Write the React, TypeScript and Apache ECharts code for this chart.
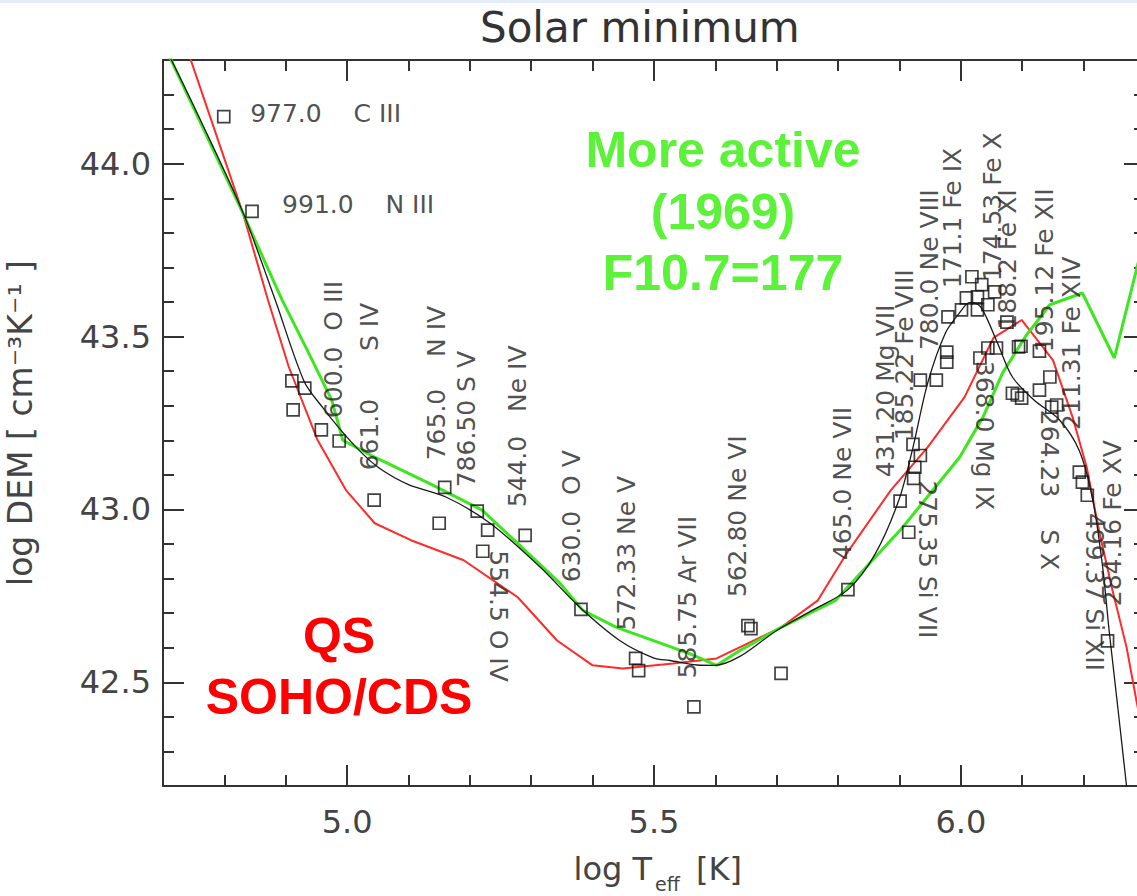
import React, { useEffect, useRef } from "react";
import * as echarts from "echarts";

const FONT = "DejaVu Sans";

// DEM fit (smooth black curve): log T_eff and log DEM
const fitT = [4.7, 4.76, 4.83, 4.882, 4.93, 4.96, 4.987, 5.02, 5.052, 5.1, 5.161, 5.233, 5.314, 5.379, 5.444, 5.5, 5.526, 5.57, 5.599, 5.64, 5.7, 5.76, 5.816, 5.86, 5.899, 5.921, 5.946, 5.975, 5.998, 6.014, 6.03, 6.042, 6.06, 6.084, 6.12, 6.16, 6.193, 6.215, 6.231, 6.242, 6.27, 6.28];
const fitDEM = [44.35, 44.13, 43.86, 43.61, 43.37, 43.295, 43.235, 43.17, 43.12, 43.072, 43.036, 42.96, 42.834, 42.717, 42.621, 42.57, 42.563, 42.55, 42.549, 42.575, 42.65, 42.71, 42.768, 42.87, 43.027, 43.172, 43.366, 43.511, 43.569, 43.598, 43.59, 43.554, 43.48, 43.383, 43.315, 43.26, 43.17, 43.027, 42.833, 42.642, 42.199, 42.0];

// Quiet Sun DEM, SOHO/CDS (red)
const qsT = [4.73, 4.83, 4.871, 4.905, 4.952, 4.998, 5.045, 5.104, 5.19, 5.278, 5.342, 5.4, 5.449, 5.531, 5.602, 5.707, 5.767, 5.814, 5.886, 5.946, 6.006, 6.053, 6.099, 6.15, 6.182, 6.205, 6.226, 6.247, 6.27, 6.286, 6.3];
const qsDEM = [44.38, 43.858, 43.606, 43.412, 43.2, 43.056, 42.96, 42.911, 42.853, 42.746, 42.621, 42.549, 42.54, 42.554, 42.569, 42.659, 42.737, 42.873, 43.056, 43.18, 43.325, 43.496, 43.548, 43.432, 43.267, 43.122, 42.931, 42.766, 42.601, 42.447, 42.32];

// More active Sun, 1969, F10.7 = 177 (green)
const activeT = [4.7, 4.83, 4.894, 4.935, 4.975, 4.993, 5.045, 5.133, 5.22, 5.347, 5.384, 5.439, 5.558, 5.602, 5.64, 5.707, 5.796, 5.905, 5.998, 6.036, 6.068, 6.107, 6.145, 6.198, 6.25, 6.286, 6.3];
const activeDEM = [44.35, 43.858, 43.606, 43.461, 43.316, 43.2, 43.151, 43.076, 42.998, 42.786, 42.708, 42.659, 42.583, 42.549, 42.592, 42.659, 42.737, 42.948, 43.151, 43.267, 43.395, 43.505, 43.592, 43.626, 43.438, 43.693, 43.79];

// Observed lines (open squares)
const lineT = [4.799, 4.845, 4.91, 4.931, 4.912, 4.958, 4.987, 5.044, 5.159, 5.15, 5.212, 5.229, 5.221, 5.29, 5.381, 5.47, 5.475, 5.565, 5.653, 5.658, 5.707, 5.816, 5.901, 5.915, 5.922, 5.925, 5.923, 5.934, 5.934, 5.96, 5.977, 5.977, 5.979, 6.001, 6.009, 6.018, 6.027, 6.034, 6.027, 6.044, 6.055, 6.075, 6.031, 6.044, 6.058, 6.094, 6.098, 6.084, 6.092, 6.099, 6.128, 6.128, 6.145, 6.148, 6.156, 6.193, 6.198, 6.206, 6.239];
const lineDEM = [44.136, 43.862, 43.372, 43.351, 43.288, 43.23, 43.198, 43.027, 43.064, 42.96, 42.995, 42.94, 42.879, 42.925, 42.711, 42.569, 42.534, 42.429, 42.664, 42.655, 42.526, 42.768, 43.024, 42.934, 43.188, 43.122, 43.09, 43.156, 43.374, 43.374, 43.455, 43.426, 43.557, 43.577, 43.612, 43.673, 43.615, 43.65, 43.577, 43.592, 43.629, 43.542, 43.438, 43.467, 43.467, 43.47, 43.472, 43.336, 43.331, 43.322, 43.458, 43.345, 43.383, 43.296, 43.302, 43.108, 43.079, 43.041, 42.62];

// Line identifications: text, anchor (log T, log DEM), rotation
const idText = [
  "977.0    C III", "991.0    N III",
  "600.0  O III", "661.0      S IV", "765.0    N IV", "786.50 S V", "544.0   Ne IV",
  "630.0  O V", "572.33 Ne V", "585.75 Ar VII", "562.80 Ne VI", "465.0 Ne VII",
  "431.20 Mg VII", "185.22 Fe VIII", "780.0 Ne VIII", "171.1 Fe IX", "174.53 Fe X",
  "188.2 Fe XI", "195.12 Fe XII", "211.31 Fe XIV", "284.16 Fe XV",
  "554.5 O IV", "275.35 Si VII", "368.0 Mg IX", "264.23    S X", "499.37 Si XII",
];
const idT = [4.842, 4.894, 4.977, 5.037, 5.146, 5.195, 5.278, 5.366, 5.456, 5.555, 5.636, 5.807, 5.878, 5.908, 5.949, 5.987, 6.052, 6.076, 6.136, 6.18, 6.247, 5.246, 5.946, 6.039, 6.145, 6.218];
const idDEM = [44.145, 43.881, 43.264, 43.113, 43.142, 43.064, 43.006, 42.789, 42.65, 42.511, 42.746, 42.853, 43.093, 43.2, 43.461, 43.64, 43.66, 43.52, 43.455, 43.23, 42.72, 42.882, 43.084, 43.43, 43.288, 42.99];
const idRotate = [0, 0, 90, 90, 90, 90, 90, 90, 90, 90, 90, 90, 90, 90, 90, 90, 90, 90, 90, 90, 90, -90, -90, -90, -90, -90];

// Axis ticks
const xMajor = [5.0, 5.5, 6.0];
const xMinor = [4.8, 4.9, 5.1, 5.2, 5.3, 5.4, 5.6, 5.7, 5.8, 5.9, 6.1, 6.2];
const yMajor = [42.5, 43.0, 43.5, 44.0];
const yMinor = [42.3, 42.4, 42.6, 42.7, 42.8, 42.9, 43.1, 43.2, 43.3, 43.4, 43.6, 43.7, 43.8, 43.9, 44.1, 44.2];

const zip = (a: number[], b: number[]) => a.map((v, i) => [v, b[i]]);
const nbsp = (s: string) => s.replace(/ /g, "\u00a0");

const AXIS = "#333";
const BOLD = `bold 50px "Liberation Sans", Arial, sans-serif`;

export default function App() {
  const ref = useRef<HTMLDivElement>(null);

  useEffect(() => {
    if (!ref.current) return;
    const chart = echarts.init(ref.current, null, { renderer: "svg" });

    const tickStyle = { color: AXIS, width: 2 };
    const xBase = { type: "value", min: 4.7, max: 6.3, splitLine: { show: false } };
    const yBase = { type: "value", min: 42.2, max: 44.3, splitLine: { show: false } };
    const axisLine = { show: true, onZero: false, lineStyle: { color: AXIS, width: 2 } };
    const noLine = { show: false, onZero: false };
    const tickLabel = {
      fontSize: 32,
      color: "#444",
      fontFamily: FONT,
      formatter: (v: number) => v.toFixed(1),
    };
    const major = (values: number[]) => ({
      show: true, inside: true, length: 21, customValues: values, lineStyle: tickStyle,
    });
    const minor = (values: number[]) => ({
      show: true, inside: true, length: 11, customValues: values, lineStyle: tickStyle,
    });

    const option: any = {
      animation: false,
      backgroundColor: "#ffffff",
      title: {
        text: "Solar minimum",
        left: 480,
        top: 6,
        padding: 0,
        textStyle: { fontFamily: FONT, fontSize: 42, fontWeight: "normal", color: "#333" },
      },
      grid: { left: 163, top: 60, right: -8, bottom: 110, outerBoundsMode: "none", containLabel: false },
      xAxis: [
        {
          ...xBase, position: "bottom", axisLine, axisTick: major(xMajor),
          axisLabel: { show: true, customValues: xMajor, margin: 20, ...tickLabel },
        },
        { ...xBase, position: "bottom", axisLine: noLine, axisTick: minor(xMinor), axisLabel: { show: false } },
        { ...xBase, position: "top", axisLine, axisTick: major(xMajor), axisLabel: { show: false } },
        { ...xBase, position: "top", axisLine: noLine, axisTick: minor(xMinor), axisLabel: { show: false } },
      ],
      yAxis: [
        {
          ...yBase, position: "left", axisLine, axisTick: major(yMajor),
          axisLabel: { show: true, customValues: yMajor, margin: 12, ...tickLabel },
          name: "log DEM [ cm\u207B\u00B3K\u207B\u00B9 ]",
          nameLocation: "middle",
          nameGap: 126,
          nameRotate: 90,
          nameTextStyle: { fontFamily: FONT, fontSize: 33, color: "#444" },
        },
        { ...yBase, position: "left", axisLine: noLine, axisTick: minor(yMinor), axisLabel: { show: false } },
        { ...yBase, position: "right", axisLine, axisTick: major(yMajor), axisLabel: { show: false } },
        { ...yBase, position: "right", axisLine: noLine, axisTick: minor(yMinor), axisLabel: { show: false } },
      ],
      series: [
        {
          type: "line", name: "QS SOHO/CDS", data: zip(qsT, qsDEM),
          showSymbol: false, clip: true, z: 3,
          lineStyle: { color: "#ff2b2b", width: 2 },
        },
        {
          type: "line", name: "More active", data: zip(activeT, activeDEM),
          showSymbol: false, clip: true, z: 3,
          lineStyle: { color: "#3de61f", width: 3 },
        },
        {
          type: "line", name: "DEM", data: zip(fitT, fitDEM),
          showSymbol: false, clip: true, smooth: 0.3, z: 4,
          lineStyle: { color: "#1a1a1a", width: 1.3 },
        },
        {
          type: "scatter", name: "Lines", data: zip(lineT, lineDEM),
          symbol: "rect", symbolSize: 12, z: 5,
          itemStyle: { color: "rgba(255,255,255,0)", borderColor: "#111", borderWidth: 1.7 },
        },
        {
          type: "scatter", name: "Ids", symbolSize: 1, z: 6, silent: true,
          itemStyle: { color: "rgba(0,0,0,0)" },
          data: idText.map((t, i) => ({
            value: [idT[i], idDEM[i]],
            name: nbsp(t),
            label: { rotate: idRotate[i] },
          })),
          label: {
            show: true,
            position: "inside",
            align: "left",
            verticalAlign: "middle",
            formatter: (p: any) => p.name,
            fontFamily: FONT,
            fontSize: 25,
            color: "#222",
          },
        },
      ],
      graphic: [
        { type: "rect", left: 0, top: 0, shape: { width: 1137, height: 3 }, style: { fill: "#e2edf8" }, silent: true },
        { type: "text", x: 723, y: 150, style: { text: "More active", font: BOLD, fill: "#5cf23a", align: "center", verticalAlign: "middle" } },
        { type: "text", x: 723, y: 212, style: { text: "(1969)", font: BOLD, fill: "#5cf23a", align: "center", verticalAlign: "middle" } },
        { type: "text", x: 723, y: 273, style: { text: "F10.7=177", font: BOLD, fill: "#5cf23a", align: "center", verticalAlign: "middle" } },
        { type: "text", x: 339, y: 636, style: { text: "QS", font: BOLD, fill: "#ff0000", align: "center", verticalAlign: "middle" } },
        { type: "text", x: 339, y: 697, style: { text: "SOHO/CDS", font: BOLD, fill: "#ff0000", align: "center", verticalAlign: "middle" } },
        { type: "text", x: 652, y: 869, style: { text: "log T", font: `32px "${FONT}"`, fill: "#444", align: "right", verticalAlign: "middle" } },
        { type: "text", x: 655, y: 884, style: { text: "eff", font: `19px "${FONT}"`, fill: "#444", align: "left", verticalAlign: "middle" } },
        { type: "text", x: 696, y: 869, style: { text: "[K]", font: `32px "${FONT}"`, fill: "#444", align: "left", verticalAlign: "middle" } },
      ],
    };

    chart.setOption(option);
    return () => chart.dispose();
  }, []);

  return (
    <div
      ref={ref}
      style={{ position: "absolute", left: 0, top: 0, width: 1137, height: 896, background: "#fff" }}
    />
  );
}
